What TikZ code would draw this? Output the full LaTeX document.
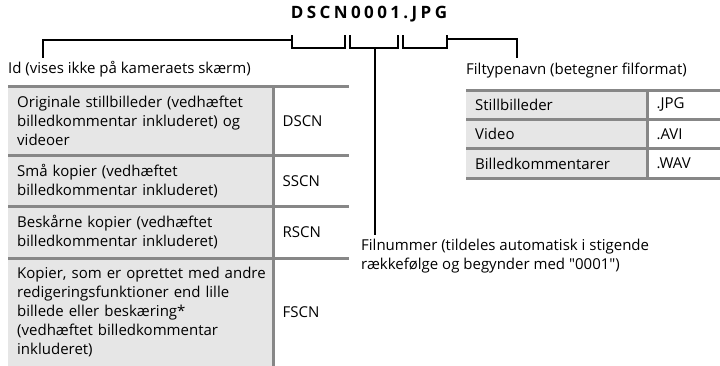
\documentclass[tikz,border=0pt]{standalone}
\usepackage{fontspec}
\setmainfont{Open Sans}
\newfontfamily\titlefont[LetterSpace=20]{Open Sans}
\usepackage{xcolor}
\usepackage{tikz}
\usetikzlibrary{positioning}
\definecolor{cellgray}{RGB}{230,230,230}
\definecolor{rulegray}{RGB}{135,135,135}
\newcommand{\txtfont}{\fontsize{15}{19}\selectfont\hyphenpenalty=10000\exhyphenpenalty=10000}

\begin{document}
\begin{tikzpicture}[x=1pt, y=-1pt,
    lbl/.style={inner sep=0pt, font=\txtfont},
    lcell/.style={anchor=north west, fill=cellgray, inner xsep=9pt, inner ysep=0pt, text width=247pt, align=left, font=\txtfont},
    rcell/.style={fill=white, inner xsep=9pt, inner ysep=0pt, text width=57pt, align=left, font=\txtfont},
    rule/.style={draw=rulegray, line width=3pt},
    bracket/.style={line width=1.6pt}]
    \useasboundingbox (0,0) rectangle (720,365);

    % file name and the three brackets under it
    \node[font=\titlefont\bfseries\fontsize{17}{20}\selectfont] (title) at (369,14) {DSCN0001.JPG};
    \coordinate (b1a) at (292,35); \coordinate (b1b) at (345,35);
    \coordinate (b2a) at (350,35); \coordinate (b2b) at (398,35);
    \coordinate (b3a) at (403,35); \coordinate (b3b) at (447,35);
    \draw[bracket] (b1a) -- ++(0,13) -| (b1b);
    \draw[bracket] (b2a) -- ++(0,13) -| (b2b);
    \draw[bracket] (b3a) -- ++(0,13) -| (b3b);

    \coordinate (idtip) at (43,58);
    \coordinate (fttip) at (517,58);
    \coordinate (nrtip) at (375,235);
    \draw[bracket] (b1a) ++(0,5) -| (idtip);
    \draw[bracket] (b3b) ++(0,4) -| (fttip);
    \draw[bracket] (nrtip |- b2a) ++(0,13) -- (nrtip);

    \node[lbl, anchor=west] (idlbl) at (8,69) {Id (vises ikke på kameraets skærm)};
    \node[lbl, anchor=west] (ftlbl) at (466,71) {Filtypenavn (betegner filformat)};
    \node[lbl, anchor=north west, align=left] (nrlbl) at (361,239) {Filnummer (tildeles automatisk i stigende\\rækkefølge og begynder med \textquotedbl0001\textquotedbl)};

    % id table
    \node[lcell, minimum height=69pt] (l1) at (8,86) {Originale stillbilleder (vedhæftet\\billedkommentar inkluderet) og\\videoer};
    \node[rcell, minimum height=69pt, right=0pt of l1] (v1) {DSCN};
    \node[lcell, minimum height=51pt, below=0pt of l1] (l2) {Små kopier (vedhæftet\\billedkommentar inkluderet)};
    \node[rcell, minimum height=51pt, right=0pt of l2] (v2) {SSCN};
    \node[lcell, minimum height=51pt, below=0pt of l2] (l3) {Beskårne kopier (vedhæftet\\billedkommentar inkluderet)};
    \node[rcell, minimum height=51pt, right=0pt of l3] (v3) {RSCN};
    \node[lcell, minimum height=108pt, below=0pt of l3] (l4) {\mbox{Kopier, som er oprettet med andre}\\redigeringsfunktioner end lille\\billede eller beskæring*\\(vedhæftet billedkommentar\\inkluderet)};
    \node[rcell, minimum height=108pt, right=0pt of l4] (v4) {FSCN};
    \foreach \r in {1,2,3,4}
        \draw[rule] (l\r.north west) -- (v\r.north east);
    \draw[rule] (v1.north west) -- (v4.south west);

    % extension table
    \node[lcell, text width=163pt, minimum height=29pt] (t1) at (466,90) {Stillbilleder};
    \node[rcell, text width=55pt, minimum height=29pt, right=0pt of t1] (e1) {.JPG};
    \node[lcell, text width=163pt, minimum height=29pt, below=0pt of t1] (t2) {Video};
    \node[rcell, text width=55pt, minimum height=29pt, right=0pt of t2] (e2) {.AVI};
    \node[lcell, text width=163pt, minimum height=29pt, below=0pt of t2] (t3) {Billedkommentarer};
    \node[rcell, text width=55pt, minimum height=29pt, right=0pt of t3] (e3) {.WAV};
    \foreach \r in {1,2,3}
        \draw[rule] (t\r.north west) -- (e\r.north east);
    \draw[rule] (t3.south west) -- (e3.south east);
    \draw[rule] (e1.north west) -- (e3.south west);
\end{tikzpicture}
\end{document}
